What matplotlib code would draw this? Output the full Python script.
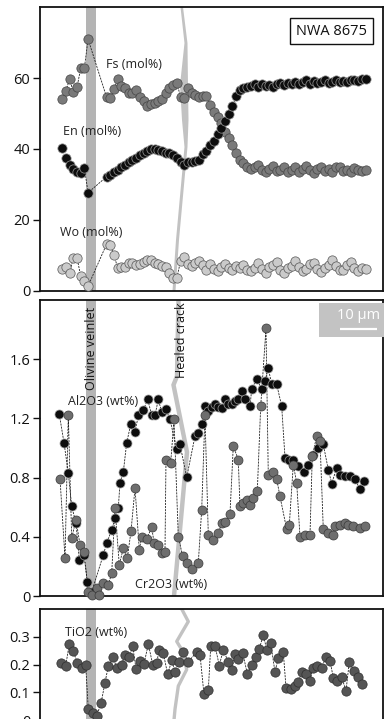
import numpy as np
import matplotlib
matplotlib.use("Agg")
import matplotlib.pyplot as plt
from matplotlib.patches import Polygon, Rectangle
import matplotlib.transforms as mtransforms

plt.rcParams['font.family'] = ['Open Sans', 'DejaVu Sans']

# ---------------- data (distance along traverse in µm) ----------------
x_top = [6, 7, 8, 9, 10, 11, 12, 13,
         18, 19, 20, 21, 22, 23, 24, 25, 26, 27, 28, 29, 30, 31, 32, 33, 34, 35,
         36, 37, 38, 39, 40, 41, 42, 43, 44, 45, 46, 47, 48, 49, 50, 51, 52, 53,
         54, 55, 56, 57, 58, 59, 60, 61, 62, 63, 64, 65, 66, 67, 68, 69, 70, 71,
         72, 73, 74, 75, 76, 77, 78, 79, 80, 81, 82, 83, 84, 85, 86, 87, 88]
en = [40.2, 37.6, 35.5, 34.5, 33.5, 33.2, 34.6, 27.7,
      32.2, 32.7, 33.4, 34.2, 34.9, 35.6, 36.2, 36.8, 37.5, 38.2, 38.9, 39.5,
      39.9, 40.1, 39.8, 39.3, 39.0, 38.8, 38.3, 37.4, 36.4, 35.6, 36.3, 36.4,
      36.6, 37.0, 38.5, 39.5, 41.0, 42.3, 44.2, 46.0, 47.8, 49.8, 52.0, 54.8,
      56.5, 57.2, 57.5, 57.8, 58.2, 57.6, 58.4, 57.8, 58.0, 57.5, 58.3, 58.5,
      57.9, 58.6, 58.2, 59.0, 58.3, 58.8, 59.3, 58.4, 59.2, 58.6, 58.9, 59.4,
      58.7, 59.0, 59.5, 58.9, 59.2, 59.0, 59.3, 59.5, 59.1, 59.6, 59.8]
fs = [54.0, 56.4, 59.7, 56.1, 57.4, 62.7, 62.9, 70.9,
      54.6, 54.5, 56.8, 59.7, 57.7, 57.2, 55.7, 55.9, 56.6, 54.7, 53.6, 52.1,
      52.7, 53.0, 53.5, 54.0, 55.7, 57.1, 58.0, 58.5, 54.7, 54.3, 57.1, 55.9,
      55.3, 54.7, 55.0, 55.0, 52.5, 50.5, 49.1, 47.3, 44.9, 43.2, 41.0, 39.0,
      37.0, 36.0, 35.0, 34.5, 34.8, 35.5, 34.0, 33.6, 34.5, 35.2, 33.8, 34.0,
      35.0, 33.5, 34.2, 34.8, 33.6, 34.5, 35.3, 34.0, 33.2, 34.4, 35.0, 33.8,
      34.5, 33.5, 34.8, 35.0, 33.9, 34.2, 33.5, 34.6, 34.0, 33.7, 34.2]
wo = [6.1, 6.8, 5.0, 9.4, 9.4, 4.2, 2.8, 1.4,
      13.2, 12.9, 10.1, 6.5, 6.8, 6.9, 7.9, 7.9, 7.2, 7.5, 8.2, 8.7, 8.7, 8.0,
      7.6, 7.1, 6.8, 5.0, 3.8, 3.7, 8.5, 9.5, 7.5, 7.0, 8.0, 8.5,
      7.2, 6.0, 7.5, 6.2, 5.5, 6.8, 7.5, 6.4, 5.8, 7.0, 6.5, 7.2, 6.0, 5.5,
      6.6, 7.8, 6.2, 5.2, 6.9, 7.4, 8.2, 6.0, 5.0, 6.4, 7.0, 8.5, 6.8, 5.6,
      6.2, 7.5, 7.9, 6.1, 5.4, 6.6, 7.2, 8.8, 7.0, 6.0, 5.8, 7.4, 8.1, 6.5,
      5.7, 6.6, 6.2]

x_al = [5.22, 6.49, 7.65, 8.57, 9.73, 10.62, 11.89, 12.78, 14.0,
        17.11, 18.03, 19.38, 20.27, 21.16, 21.62, 22.51, 23.43, 24.51, 25.68,
        26.57, 27.92, 29.11, 30.19, 31.08, 31.97, 32.89, 33.97, 35.14, 36.95,
        37.84, 39.65, 41.89, 42.78, 43.70, 44.59, 45.49, 46.41, 47.30, 48.19,
        49.11, 50.0, 50.89, 51.81, 52.70, 53.59, 54.51, 55.41, 56.76, 57.22,
        58.57, 59.92, 60.81, 61.70, 62.62, 63.97, 65.32, 66.22, 67.38, 68.46,
        69.81, 71.35, 72.51, 73.86, 75.22, 76.57, 77.92, 78.84, 80.19, 81.08,
        82.43, 83.78, 85.14, 86.49, 87.65]
al2o3 = [1.227, 1.035, 0.832, 0.605, 0.493, 0.244, 0.278, 0.097, 0.03,
         0.278, 0.357, 0.447, 0.527, 0.594, 0.764, 0.836, 1.035, 1.159, 1.107,
         1.22, 1.256, 1.329, 1.22, 1.22, 1.329, 1.243, 1.266, 1.193, 0.99,
         1.024, 0.802, 1.08, 1.103, 1.159, 1.283, 1.25, 1.28, 1.295, 1.28,
         1.27, 1.329, 1.30, 1.295, 1.317, 1.329, 1.385, 1.329, 1.283, 1.397,
         1.469, 1.397, 1.453, 1.539, 1.43, 1.43, 1.283, 0.934, 0.922, 0.922,
         0.877, 0.836, 0.888, 0.956, 1.0, 1.024, 0.854, 0.76, 0.866, 0.82,
         0.81, 0.81, 0.79, 0.72, 0.775]

x_cr = [5.41, 6.76, 7.65, 8.57, 9.73, 10.81, 11.89, 13.05, 13.97, 15.32, 16.03,
        17.11, 18.46, 19.38, 20.27, 21.43, 22.51, 23.59, 24.59, 25.68, 26.84,
        27.49, 28.84, 30.19, 30.81, 31.97, 32.89, 33.78, 34.05, 35.32, 36.22,
        37.38, 38.57, 39.65, 41.0, 42.78, 43.70, 44.59, 45.49, 46.84, 48.19,
        49.11, 50.0, 51.35, 52.24, 53.59, 54.05, 54.95, 55.86, 56.76, 57.65,
        58.73, 59.65, 61.08, 61.70, 62.89, 63.97, 64.86, 66.68, 67.38, 68.46,
        69.38, 70.27, 71.62, 72.97, 73.59, 74.78, 75.68, 76.57, 77.92, 79.11,
        79.73, 81.08, 82.43, 83.32, 84.68, 86.49, 87.84]
cr2o3 = [0.791, 0.256, 1.22, 0.391, 0.515, 0.346, 0.30, 0.03, 0.007, 0.052, 0.007,
         0.086, 0.075, 0.154, 0.594, 0.21, 0.323, 0.256, 0.436, 0.73, 0.312,
         0.402, 0.384, 0.466, 0.361, 0.346, 0.29, 0.30, 0.917, 0.90, 1.193,
         0.402, 0.267, 0.222, 0.181, 0.222, 0.583, 1.22, 0.414, 0.38, 0.425,
         0.49, 0.50, 0.556, 1.013, 0.922, 0.605, 0.63, 0.65, 0.617, 0.662,
         0.707, 1.283, 1.808, 0.82, 0.836, 0.79, 0.673, 0.45, 0.48, 0.888,
         0.764, 0.40, 0.41, 0.41, 0.944, 1.08, 1.05, 0.45, 0.425, 0.41,
         0.47, 0.48, 0.49, 0.48, 0.47, 0.46, 0.475]

x_ti = [5.68, 6.95, 7.92, 9.0, 10.08, 11.27, 12.35, 13.05, 14.24, 15.32, 16.49,
        17.57, 18.46, 19.81, 20.73, 22.08, 22.97, 24.05, 25.05, 25.95, 27.03,
        28.11, 29.27, 30.46, 31.54, 32.24, 33.32, 34.51, 35.59, 36.49, 37.65,
        38.73, 40.08, 42.35, 43.24, 44.32, 45.49, 46.14, 47.30, 48.46, 49.54,
        50.89, 51.81, 52.70, 53.59, 54.78, 56.03, 57.22, 58.38, 59.27, 60.35,
        61.27, 62.35, 63.51, 64.41, 65.76, 66.49, 67.76, 68.92, 69.81, 70.89,
        71.89, 72.97, 73.70, 74.95, 76.14, 77.30, 78.38, 79.27, 80.35, 81.54,
        82.70, 83.59, 84.86, 86.03, 86.95]
tio2 = [0.206, 0.196, 0.274, 0.248, 0.206, 0.186, 0.198, 0.039, 0.027, 0.015, 0.06,
        0.135, 0.194, 0.226, 0.186, 0.20, 0.236, 0.226, 0.265, 0.185, 0.214,
        0.202, 0.274, 0.20, 0.206, 0.254, 0.242, 0.164, 0.215, 0.174, 0.21,
        0.245, 0.21, 0.245, 0.236, 0.093, 0.108, 0.265, 0.268, 0.196, 0.254,
        0.208, 0.179, 0.238, 0.22, 0.242, 0.167, 0.20, 0.226, 0.256, 0.307,
        0.254, 0.278, 0.173, 0.224, 0.244, 0.117, 0.111, 0.123, 0.138, 0.174,
        0.164, 0.14, 0.188, 0.196, 0.188, 0.227, 0.214, 0.152, 0.14, 0.155,
        0.105, 0.208, 0.176, 0.156, 0.129]

n = min(len(x_cr), len(cr2o3))
x_cr, cr2o3 = x_cr[:n], cr2o3[:n]
n = min(len(x_ti), len(tio2))
x_ti, tio2 = x_ti[:n], tio2[:n]
n = min(len(x_al), len(al2o3))
x_al, al2o3 = x_al[:n], al2o3[:n]
n = min(len(x_top), len(en), len(fs), len(wo))
x_top, en, fs, wo = x_top[:n], en[:n], fs[:n], wo[:n]

# ---------------- figure ----------------
W, H = 384, 719
fig = plt.figure(figsize=(W / 100, H / 100), dpi=100)

XMAX = 92.57
left = 40 / W
width = 342.5 / W
ax1 = fig.add_axes([left, (H - 291) / H, width, 284 / H])
ax2 = fig.add_axes([left, (H - 596) / H, width, 296 / H])
ax3 = fig.add_axes([left, (H - 720) / H, width, 111 / H])

VEIN = (12.38, 15.22)
VEIN_C = '#b4b4b4'
CRACK_C = '#c2c2c2'

for ax in (ax1, ax2, ax3):
    ax.set_xlim(0, XMAX)
    ax.set_xticks([])
    ax.axvspan(VEIN[0], VEIN[1], color=VEIN_C, lw=0, zorder=1)
    for s in ax.spines.values():
        s.set_linewidth(1.3)
        s.set_color('#111')
    ax.tick_params(axis='y', direction='out', length=5, width=1,
                   labelsize=10.5, pad=2, colors='#111')

line_kw = dict(ls=(0, (2.5, 1.2)), lw=0.6, color='#222', zorder=3)


def series(ax, x, y, face, edge, ms=6.7, z=4):
    ax.plot(x, y, **line_kw)
    ax.plot(x, y, ls='none', marker='o', ms=ms, mfc=face, mec=edge,
            mew=0.5, zorder=z, clip_on=False)


# ---- panel 1 ----
ax1.set_ylim(0, 80)
ax1.set_yticks([0, 20, 40, 60])
ax1.set_yticklabels(['0', '20', '40', '60'])
crack1_left = [(37.97, 1.0), (39.05, 0.873), (37.84, 0.725), (38.38, 0.602),
               (39.05, 0.507), (36.76, 0.18), (35.81, 0.0)]
crack1_right = [(38.65, 1.0), (39.86, 0.873), (40.0, 0.725), (40.14, 0.602),
                (39.86, 0.507), (37.57, 0.18), (36.62, 0.0)]
tr1 = mtransforms.blended_transform_factory(ax1.transData, ax1.transAxes)
ax1.add_patch(Polygon(crack1_left + crack1_right[::-1], closed=True,
                      fc=CRACK_C, ec='none', transform=tr1, zorder=2))
series(ax1, x_top, wo, '#cacaca', '#555')
series(ax1, x_top, fs, '#7a7a7a', '#444')
series(ax1, x_top, en, '#0d0d0d', '#9a9a9a', z=5)
lab_kw = dict(fontsize=9, color='#222', va='center', ha='left', zorder=6)
ax1.text(17.84, 63.7, 'Fs (mol%)', **lab_kw)
ax1.text(6.14, 44.8, 'En (mol%)', **lab_kw)
ax1.text(5.41, 16.6, 'Wo (mol%)', **lab_kw)
ax1.text(0.852, 0.915, 'NWA 8675', transform=ax1.transAxes, fontsize=10.5,
         ha='center', va='center', color='#111',
         bbox=dict(boxstyle='square,pad=0.4', fc='white', ec='#111', lw=1))

# ---- panel 2 ----
ax2.set_ylim(0, 2.0)
ax2.set_yticks([0, 0.4, 0.8, 1.2, 1.6])
ax2.set_yticklabels(['0', '0.4', '0.8', '1.2', '1.6'])
tr2 = mtransforms.blended_transform_factory(ax2.transData, ax2.transAxes)
ax2.plot([37.43, 37.03, 36.08, 39.73, 36.22], [1.0, 0.743, 0.713, 0.486, 0.0],
         color=CRACK_C, lw=3.2, solid_joinstyle='miter', transform=tr2, zorder=2)
series(ax2, x_al, al2o3, '#0d0d0d', '#9a9a9a', ms=6.5)
series(ax2, x_cr, cr2o3, '#6e6e6e', '#3a3a3a', ms=6.5, z=5)
ax2.text(7.57, 1.315, 'Al2O3 (wt%)', **lab_kw)
ax2.text(25.68, 0.075, 'Cr2O3 (wt%)', **lab_kw)
ax2.text(14.05, 0.838, 'Olivine veinlet', transform=tr2, rotation=90,
         fontsize=9, ha='center', va='center', color='#111', zorder=6)
ax2.text(38.24, 0.865, 'Healed crack', transform=tr2, rotation=90,
         fontsize=9, ha='center', va='center', color='#111', zorder=6)
ax2.add_patch(Rectangle((0.8155, 0.876), 0.19, 0.113, transform=ax2.transAxes,
                        fc='#c3c3c3', ec='none', zorder=6, clip_on=False))
ax2.text(0.93, 0.947, '10 µm', transform=ax2.transAxes, fontsize=10.5,
         color='white', ha='center', va='center', zorder=7)
ax2.plot([0.876, 0.983], [0.901, 0.901], transform=ax2.transAxes,
         color='white', lw=1.6, zorder=7, solid_capstyle='butt')

# ---- panel 3 ----
ax3.set_ylim(0, 0.4)
ax3.set_yticks([0, 0.1, 0.2, 0.3])
ax3.set_yticklabels(['0', '0.1', '0.2', '0.3'])
tr3 = mtransforms.blended_transform_factory(ax3.transData, ax3.transAxes)
ax3.plot([38.30, 40.08, 36.95, 38.30, 39.65, 37.38, 36.49, 36.22],
         [1.0, 0.887, 0.708, 0.634, 0.455, 0.306, 0.098, 0.0],
         color=CRACK_C, lw=2.4, transform=tr3, zorder=2)
series(ax3, x_ti, tio2, '#555555', '#2e2e2e')
ax3.text(6.76, 0.314, 'TiO2 (wt%)', **lab_kw)

fig.savefig('out.png', dpi=100)
